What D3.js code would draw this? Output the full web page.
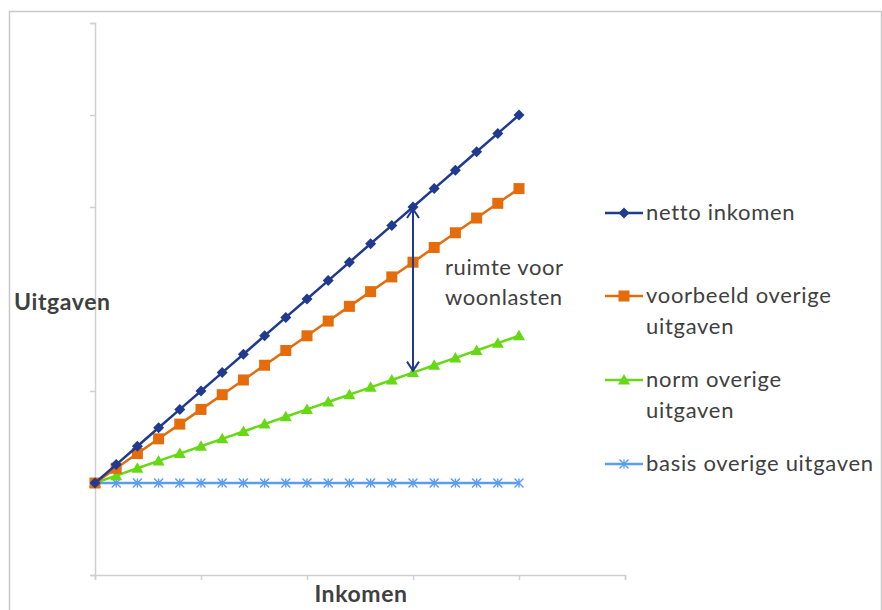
<!DOCTYPE html>
<html>
<head>
<meta charset="utf-8">
<script src="https://cdn.jsdelivr.net/npm/d3@7"></script>
<style>
  body { margin: 0; background: #fff; }
  svg { display: block; font-family: Lato, "Open Sans", sans-serif; }
</style>
</head>
<body>
<div id="chart"></div>
<script>
// Data
const inkomen = [0, 1, 2, 3, 4, 5, 6, 7, 8, 9, 10, 11, 12, 13, 14, 15, 16, 17, 18, 19, 20];
const nettoInkomen = [1, 1.2, 1.4, 1.6, 1.8, 2, 2.2, 2.4, 2.6, 2.8, 3, 3.2, 3.4, 3.6, 3.8, 4, 4.2, 4.4, 4.6, 4.8, 5];
const voorbeeldOverige = [1, 1.16, 1.32, 1.48, 1.64, 1.8, 1.96, 2.12, 2.28, 2.44, 2.6, 2.76, 2.92, 3.08, 3.24, 3.4, 3.56, 3.72, 3.88, 4.04, 4.2];
const normOverige = [1, 1.08, 1.16, 1.24, 1.32, 1.4, 1.48, 1.56, 1.64, 1.72, 1.8, 1.88, 1.96, 2.04, 2.12, 2.2, 2.28, 2.36, 2.44, 2.52, 2.6];
const basisOverige = [1, 1, 1, 1, 1, 1, 1, 1, 1, 1, 1, 1, 1, 1, 1, 1, 1, 1, 1, 1, 1];
const xTicks = [0, 5, 10, 15, 20, 25];
const yTicks = [0, 1, 2, 3, 4, 5, 6];
// arrow "ruimte voor woonlasten" at this income index
const arrowAt = 15;

const series = [
    { name: 'netto inkomen', lines: ['netto inkomen'], values: nettoInkomen, color: '#1f3a8f', marker: 'diamond' },
    { name: 'voorbeeld overige uitgaven', lines: ['voorbeeld overige', 'uitgaven'], values: voorbeeldOverige, color: '#e46c0a', marker: 'square' },
    { name: 'norm overige uitgaven', lines: ['norm overige', 'uitgaven'], values: normOverige, color: '#66d814', marker: 'triangle' },
    { name: 'basis overige uitgaven', lines: ['basis overige uitgaven'], values: basisOverige, color: '#5c9cf0', marker: 'cross' }
];

const W = 882, H = 610;
const plot = { left: 95, right: 625, top: 23, bottom: 575 };

const svg = d3.select('#chart').append('svg')
    .attr('width', W)
    .attr('height', H);

// outer frame
svg.append('rect')
    .attr('x', 9.5).attr('y', 11.5)
    .attr('width', 872).attr('height', 620)
    .attr('fill', 'none')
    .attr('stroke', '#c8c8c8')
    .attr('stroke-width', 1.5);

const x = d3.scaleLinear().domain([0, 25]).range([plot.left, plot.right]);
const y = d3.scaleLinear().domain([0, 6]).range([plot.bottom, plot.top]);

// axes
const axisColor = '#d0d0d0';
const gx = svg.append('g')
    .attr('transform', `translate(0,${plot.bottom})`)
    .call(d3.axisBottom(x).tickValues(xTicks).tickSize(5).tickFormat(''));
const gy = svg.append('g')
    .attr('transform', `translate(${plot.left},0)`)
    .call(d3.axisLeft(y).tickValues(yTicks).tickSize(5).tickFormat(''));
[gx, gy].forEach(g => {
    g.selectAll('path').attr('stroke', axisColor).attr('stroke-width', 1.5);
    g.selectAll('line').attr('stroke', axisColor).attr('stroke-width', 1.5);
});

// marker shapes
function drawMarker(g, type, color) {
    if (type === 'diamond') {
        g.append('path').attr('d', 'M0,-5.5L5.5,0L0,5.5L-5.5,0Z').attr('fill', color);
    } else if (type === 'square') {
        g.append('rect').attr('x', -5.5).attr('y', -5.5).attr('width', 11).attr('height', 11).attr('fill', color);
    } else if (type === 'triangle') {
        g.append('path').attr('d', 'M0,-6L6,4.5L-6,4.5Z').attr('fill', color);
    } else if (type === 'cross') {
        g.append('path').attr('d', 'M-4.5,-4.5L4.5,4.5M-4.5,4.5L4.5,-4.5M0,-4.5L0,4.5')
            .attr('stroke', color).attr('stroke-width', 1.4).attr('fill', 'none');
    }
}

const line = d3.line()
    .x((d, i) => x(inkomen[i]))
    .y(d => y(d));

// draw from back to front (basis first)
series.slice().reverse().forEach(s => {
    svg.append('path')
        .datum(s.values)
        .attr('d', line)
        .attr('fill', 'none')
        .attr('stroke', s.color)
        .attr('stroke-width', 2.5);
    svg.append('g').selectAll('g')
        .data(s.values)
        .join('g')
        .attr('transform', (d, i) => `translate(${x(inkomen[i])},${y(d)})`)
        .each(function() { drawMarker(d3.select(this), s.marker, s.color); });
});

// double headed arrow: room for housing costs
const ax = x(inkomen[arrowAt]);
const yTop = y(nettoInkomen[arrowAt]);
const yBot = y(normOverige[arrowAt]);
const arrowColor = '#1f3a8f';
svg.append('line')
    .attr('x1', ax).attr('x2', ax)
    .attr('y1', yTop + 2).attr('y2', yBot - 2)
    .attr('stroke', arrowColor).attr('stroke-width', 2);
svg.append('path')
    .attr('d', `M${ax - 6},${yTop + 11}L${ax},${yTop + 2}L${ax + 6},${yTop + 11}`)
    .attr('fill', 'none').attr('stroke', arrowColor).attr('stroke-width', 2);
svg.append('path')
    .attr('d', `M${ax - 6},${yBot - 11}L${ax},${yBot - 2}L${ax + 6},${yBot - 11}`)
    .attr('fill', 'none').attr('stroke', arrowColor).attr('stroke-width', 2);

const textColor = '#404040';
svg.append('text')
    .attr('x', 445).attr('y', 275)
    .attr('fill', textColor).attr('font-size', 22).attr('letter-spacing', 0.6)
    .text('ruimte voor');
svg.append('text')
    .attr('x', 445).attr('y', 305)
    .attr('fill', textColor).attr('font-size', 22).attr('letter-spacing', 0.6)
    .text('woonlasten');

// axis titles
svg.append('text')
    .attr('x', 14).attr('y', 310)
    .attr('fill', textColor).attr('font-size', 23).attr('font-weight', 'bold').attr('letter-spacing', 0.6)
    .text('Uitgaven');
svg.append('text')
    .attr('x', (plot.left + plot.right) / 2 + 1).attr('y', 602)
    .attr('text-anchor', 'middle')
    .attr('fill', textColor).attr('font-size', 23).attr('font-weight', 'bold').attr('letter-spacing', 0.6)
    .text('Inkomen');

// legend
const legendY = [213, 296, 380, 464];
const legend = svg.append('g');
series.forEach((s, i) => {
    const g = legend.append('g').attr('transform', `translate(605,${legendY[i]})`);
    g.append('line').attr('x1', 0).attr('x2', 38).attr('stroke', s.color).attr('stroke-width', 2.5);
    drawMarker(g.append('g').attr('transform', 'translate(19,0)'), s.marker, s.color);
    s.lines.forEach((t, j) => {
        g.append('text')
            .attr('x', 41).attr('y', 7 + j * 31)
            .attr('fill', textColor).attr('font-size', 22).attr('letter-spacing', 0.7)
            .text(t);
    });
});
</script>
</body>
</html>
